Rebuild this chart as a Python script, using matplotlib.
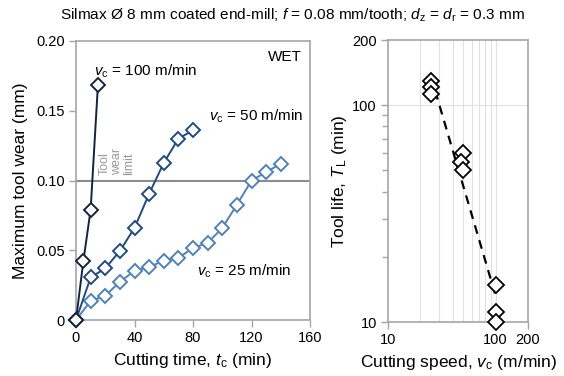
import numpy as np
import matplotlib
matplotlib.use("Agg")
import matplotlib.pyplot as plt
from matplotlib.ticker import LogLocator, NullFormatter, FixedLocator, FixedFormatter

plt.rcParams['font.family'] = ['Liberation Sans', 'DejaVu Sans']
plt.rcParams['mathtext.fontset'] = 'custom'
plt.rcParams['mathtext.rm'] = 'Liberation Sans'
plt.rcParams['mathtext.it'] = 'Liberation Sans:italic'

# wear curves, cutting time (min) vs max tool wear (mm)
t_25 = [0, 10, 20, 30, 40, 50, 60, 70, 80, 90, 100, 110, 120, 130, 140]
wear_25 = [0, 0.0136, 0.0174, 0.0274, 0.0352, 0.0381, 0.0424, 0.0445, 0.0517,
           0.0552, 0.066, 0.0826, 0.100, 0.106, 0.112]
t_50 = [0, 10, 20, 30, 40, 50, 60, 70, 80]
wear_50 = [0, 0.0305, 0.037, 0.0495, 0.066, 0.0905, 0.1126, 0.130, 0.136]
t_100 = [0, 5, 10, 15]
wear_100 = [0, 0.042, 0.079, 0.1686]
wear_limit = 0.10

# tool life vs cutting speed
vc = [25, 25, 25, 50, 48, 50, 100, 100, 100]
tool_life = [130, 121, 113, 60, 55, 50, 14.8, 11.1, 10]

c25 = '#4f81bd'
c50 = '#1f4a82'
c100 = '#14243f'
spine_c = '#a6a6a6'

fig = plt.figure(figsize=(5.64, 3.76), dpi=100)
ax1 = fig.add_axes([76 / 564, 56 / 376, 234 / 564, 279 / 376])
ax2 = fig.add_axes([388 / 564, 54 / 376, 140 / 564, 282 / 376])

fig.text(0.518, 0.958,
         r'Silmax Ø 8 mm coated end-mill; $f$ = 0.08 mm/tooth; $d_\mathrm{z}$ = $d_\mathrm{r}$ = 0.3 mm',
         ha='center', va='center', fontsize=11.1)

# left panel
ax1.axhline(wear_limit, color='#8c8c8c', lw=1.5, zorder=1)
mk = dict(marker='D', ms=7, mfc='white', mew=1.4, lw=1.4)
ax1.plot(t_25, wear_25, color=c25, mec=c25, zorder=3, clip_on=False, **mk)
ax1.plot(t_50, wear_50, color=c50, mec=c50, zorder=4, clip_on=False, **mk)
ax1.plot(t_100, wear_100, color=c100, mec=c100, zorder=5, clip_on=False, **mk)

ax1.set_xlim(0, 160)
ax1.set_ylim(0, 0.20)
ax1.set_xticks([0, 40, 80, 120, 160])
ax1.set_yticks([0, 0.05, 0.10, 0.15, 0.20])
ax1.set_yticklabels(['0', '0.05', '0.10', '0.15', '0.20'])
ax1.set_xlabel(r'Cutting time, $t_\mathrm{c}$ (min)', fontsize=12.5, labelpad=4)
ax1.set_ylabel('Maximum tool wear (mm)', fontsize=12.5, labelpad=6)

ax1.text(143, 0.1885, 'WET', ha='center', va='center', fontsize=11)
ax1.text(12, 0.178, r'$v_\mathrm{c}$ = 100 m/min', ha='left', va='center', fontsize=11)
ax1.text(91, 0.146, r'$v_\mathrm{c}$ = 50 m/min', ha='left', va='center', fontsize=11)
ax1.text(83, 0.035, r'$v_\mathrm{c}$ = 25 m/min', ha='left', va='center', fontsize=11)
ax1.text(28, wear_limit + 0.004, 'Tool\nwear\nlimit', rotation=90, ha='center',
         va='bottom', multialignment='left', fontsize=9, color='#999999',
         linespacing=1.0)

# right panel
ax2.set_xscale('log')
ax2.set_yscale('log')
ax2.set_xlim(10, 200)
ax2.set_ylim(10, 200)

for v in range(20, 101, 10):
    ax2.axvline(v, color='#e0e0e0', lw=0.8, zorder=0)
ax2.axhline(100, color='#e0e0e0', lw=0.8, zorder=0)

# power-law fit of tool life
p = np.polyfit(np.log10(vc), np.log10(tool_life), 1)
v_fit = np.array([25, 100])
ax2.plot(v_fit, 10 ** np.polyval(p, np.log10(v_fit)), color='black', ls=(0, (4, 3)),
         lw=1.6, zorder=2)
ax2.plot(vc, tool_life, ls='none', marker='D', ms=8, mfc='white', mec='black',
         mew=1.3, zorder=3, clip_on=False)

ax2.xaxis.set_major_locator(FixedLocator([10, 100, 200]))
ax2.xaxis.set_major_formatter(FixedFormatter(['10', '100', '200']))
ax2.xaxis.set_minor_locator(FixedLocator([]))
ax2.yaxis.set_major_locator(FixedLocator([10, 100, 200]))
ax2.yaxis.set_major_formatter(FixedFormatter(['10', '100', '200']))
ax2.yaxis.set_minor_locator(LogLocator(base=10, subs=np.arange(2, 10)))
ax2.yaxis.set_minor_formatter(NullFormatter())
ax2.set_xlabel(r'Cutting speed, $v_\mathrm{c}$ (m/min)', fontsize=12.5, labelpad=4)
ax2.set_ylabel(r'Tool life, $T_\mathrm{L}$ (min)', fontsize=12.5, labelpad=2)

for ax in (ax1, ax2):
    for s in ax.spines.values():
        s.set_color(spine_c)
        s.set_linewidth(1.2)
    ax.tick_params(which='both', direction='out', color=spine_c, labelsize=10.5,
                   width=1.0)
    ax.tick_params(which='major', length=5, pad=3)
    ax.tick_params(which='minor', length=4)

fig.savefig('out.png', dpi=100)
